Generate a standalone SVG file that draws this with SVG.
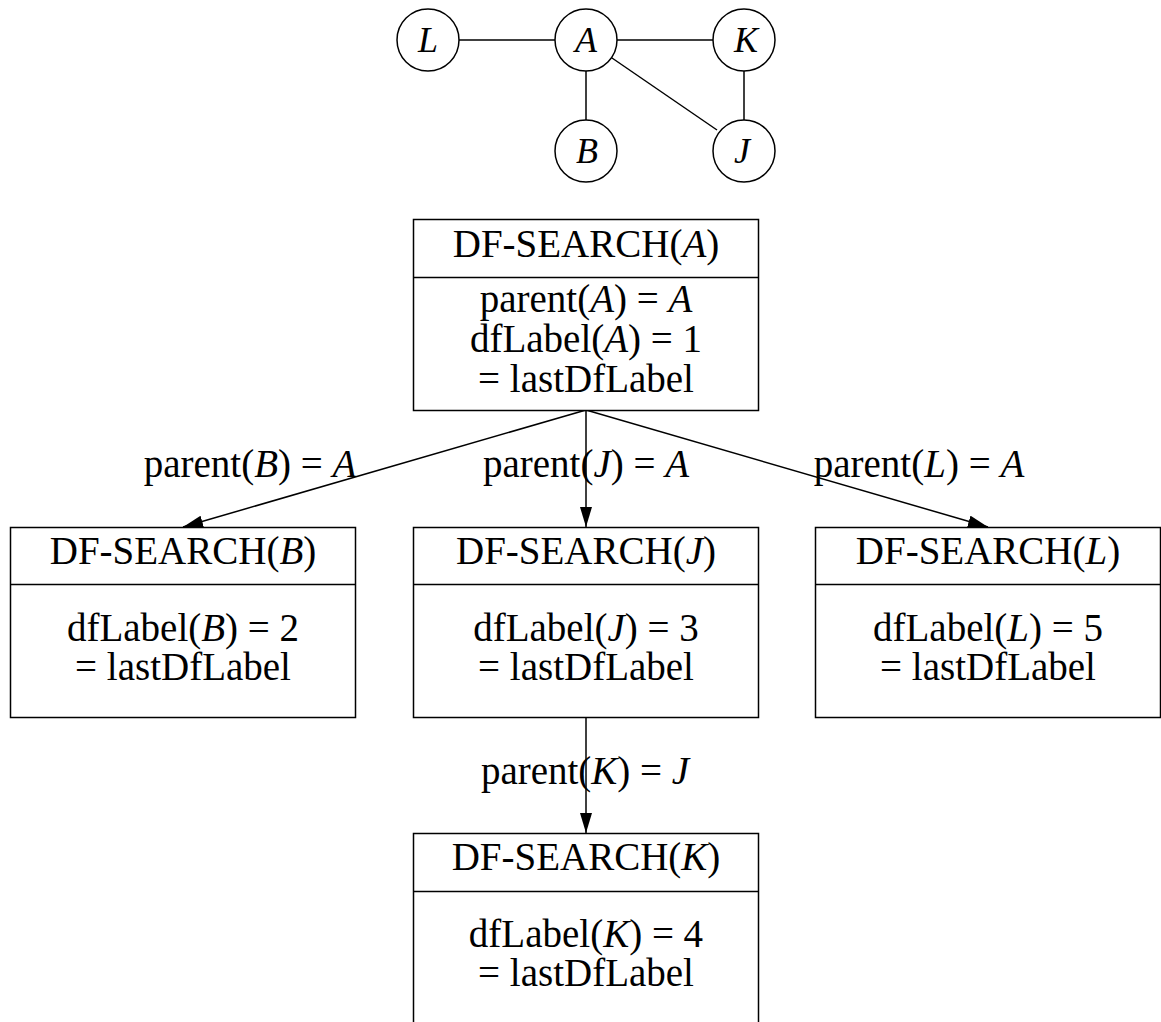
<svg xmlns="http://www.w3.org/2000/svg" width="1161" height="1022" viewBox="0 0 1161 1022">
<style>
  .t { font-family: "Liberation Serif", "Times New Roman", serif; font-size: 39px; fill: #000; text-anchor: middle; }
  .g { font-family: "Liberation Serif", "Times New Roman", serif; font-size: 36px; fill: #000; text-anchor: middle; font-style: italic; }
  .i { font-style: italic; }
  .box { fill: #fff; stroke: #000; stroke-width: 1.5; }
  .div { stroke: #000; stroke-width: 1.5; }
  .circ { fill: #fff; stroke: #000; stroke-width: 1.5; }
  .e { stroke: #000; stroke-width: 1.5; fill: none; }
</style>
<defs>
  <marker id="arr" markerUnits="userSpaceOnUse" markerWidth="22" markerHeight="14" refX="20" refY="6" orient="auto">
    <path d="M0,0 L20,6 L0,12 Z" fill="#000"/>
  </marker>
</defs>

<!-- top graph -->
<g id="graph-edges">
  <line class="e" x1="459" y1="40" x2="555" y2="40"/>
  <line class="e" x1="617" y1="40" x2="713" y2="40"/>
  <line class="e" x1="586" y1="71" x2="586" y2="120"/>
  <line class="e" x1="744" y1="71" x2="744" y2="120"/>
  <line class="e" x1="612" y1="58" x2="717" y2="130"/>
</g>
<g id="gL"><circle class="circ" cx="428" cy="40" r="31"/><text class="g" x="428" y="52">L</text></g>
<g id="gA"><circle class="circ" cx="586" cy="40" r="31"/><text class="g" x="586" y="52">A</text></g>
<g id="gK"><circle class="circ" cx="744" cy="40" r="31"/><text class="g" x="746" y="52">K</text></g>
<g id="gB"><circle class="circ" cx="586" cy="151" r="31"/><text class="g" x="587" y="163">B</text></g>
<g id="gJ"><circle class="circ" cx="744" cy="151" r="31"/><text class="g" x="742" y="163">J</text></g>

<!-- connectors -->
<g id="connectors">
  <line class="e" x1="586" y1="410" x2="183" y2="527" marker-end="url(#arr)"/>
  <line class="e" x1="586" y1="410" x2="586" y2="527" marker-end="url(#arr)"/>
  <line class="e" x1="586" y1="410" x2="988" y2="527" marker-end="url(#arr)"/>
  <line class="e" x1="586" y1="717" x2="586" y2="833" marker-end="url(#arr)"/>
  <text class="t" x="250" y="477">parent(<tspan class="i">B</tspan>) = <tspan class="i">A</tspan></text>
  <text class="t" x="586" y="477">parent(<tspan class="i">J</tspan>) = <tspan class="i">A</tspan></text>
  <text class="t" x="919" y="477">parent(<tspan class="i">L</tspan>) = <tspan class="i">A</tspan></text>
  <text class="t" x="585" y="784">parent(<tspan class="i">K</tspan>) = <tspan class="i">J</tspan></text>
</g>

<!-- DF-SEARCH(A) -->
<g id="nodeA">
  <rect class="box" x="413.5" y="219.5" width="345" height="191"/>
  <line class="div" x1="413.5" y1="277.5" x2="758.5" y2="277.5"/>
  <text class="t" x="586" y="257">DF-SEARCH(<tspan class="i">A</tspan>)</text>
  <text class="t" x="586" y="312">parent(<tspan class="i">A</tspan>) = <tspan class="i">A</tspan></text>
  <text class="t" x="586" y="352">dfLabel(<tspan class="i">A</tspan>) = 1</text>
  <text class="t" x="586" y="392">= lastDfLabel</text>
</g>

<!-- DF-SEARCH(B) -->
<g id="nodeB">
  <rect class="box" x="10.5" y="527.5" width="345" height="190"/>
  <line class="div" x1="10.5" y1="584.5" x2="355.5" y2="584.5"/>
  <text class="t" x="183" y="564">DF-SEARCH(<tspan class="i">B</tspan>)</text>
  <text class="t" x="183" y="641">dfLabel(<tspan class="i">B</tspan>) = 2</text>
  <text class="t" x="183" y="680">= lastDfLabel</text>
</g>

<!-- DF-SEARCH(J) -->
<g id="nodeJ">
  <rect class="box" x="413.5" y="527.5" width="345" height="190"/>
  <line class="div" x1="413.5" y1="584.5" x2="758.5" y2="584.5"/>
  <text class="t" x="586" y="564">DF-SEARCH(<tspan class="i">J</tspan>)</text>
  <text class="t" x="586" y="641">dfLabel(<tspan class="i">J</tspan>) = 3</text>
  <text class="t" x="586" y="680">= lastDfLabel</text>
</g>

<!-- DF-SEARCH(L) -->
<g id="nodeL">
  <rect class="box" x="815.5" y="527.5" width="345" height="190"/>
  <line class="div" x1="815.5" y1="584.5" x2="1160.5" y2="584.5"/>
  <text class="t" x="988" y="564">DF-SEARCH(<tspan class="i">L</tspan>)</text>
  <text class="t" x="988" y="641">dfLabel(<tspan class="i">L</tspan>) = 5</text>
  <text class="t" x="988" y="680">= lastDfLabel</text>
</g>

<!-- DF-SEARCH(K) -->
<g id="nodeK">
  <rect class="box" x="413.5" y="833.5" width="345" height="200"/>
  <line class="div" x1="413.5" y1="891.5" x2="758.5" y2="891.5"/>
  <text class="t" x="586" y="870">DF-SEARCH(<tspan class="i">K</tspan>)</text>
  <text class="t" x="586" y="947">dfLabel(<tspan class="i">K</tspan>) = 4</text>
  <text class="t" x="586" y="986">= lastDfLabel</text>
</g>
</svg>
